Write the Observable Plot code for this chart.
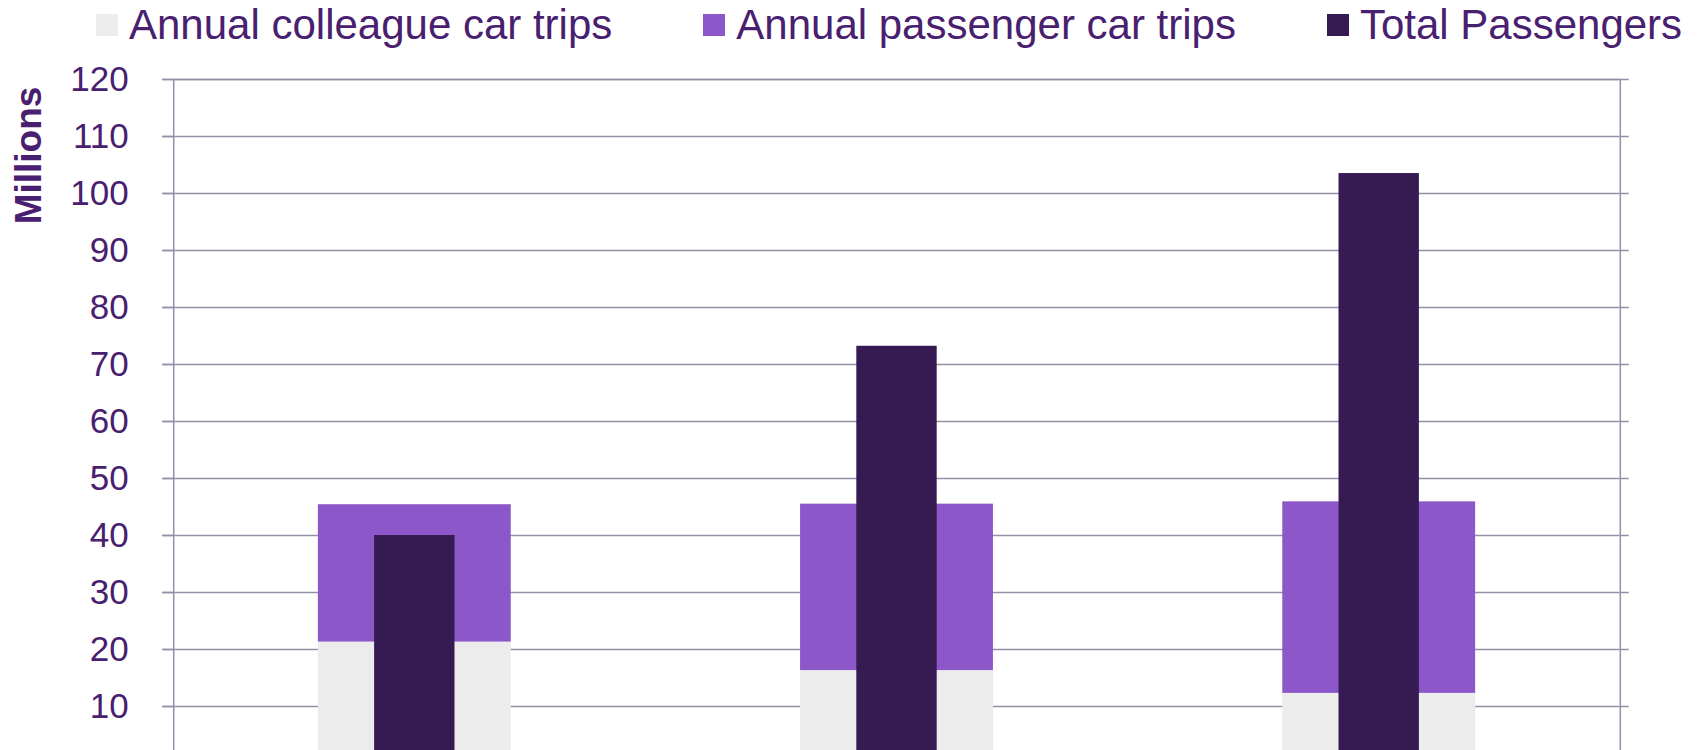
<!DOCTYPE html>
<html>
<head>
<meta charset="utf-8">
<script src="https://cdn.jsdelivr.net/npm/d3@7"></script>
<script src="https://cdn.jsdelivr.net/npm/@observablehq/plot@0.6"></script>
<style>
  html, body { margin: 0; padding: 0; overflow: hidden; background: #ffffff; width: 1706px; height: 750px; }
  #legend { display: flex; align-items: center; height: 50px; line-height: 50px; padding-left: 96px;
            font-family: "Liberation Sans", Arial, sans-serif; font-size: 42px; color: #48206f; white-space: nowrap; }
  .item { display: flex; align-items: center; margin-right: 91px; }
  .sw { width: 22px; height: 22px; margin-right: 11px; flex: none; }
  #chart svg { display: block; }
</style>
</head>
<body>
<div id="legend"></div>
<div id="chart"></div>
<script>
// ---- data ----
const categories = ["Category 1", "Category 2", "Category 3"];
const colleagueTrips = [21.3, 16.3, 12.3];
const passengerTrips = [24.1, 29.2, 33.6];
const totalPassengers = [40.0, 73.2, 103.5];
const seriesNames = ["Annual colleague car trips", "Annual passenger car trips", "Total Passengers"];
const seriesColors = ["#ececec", "#8b57c9", "#361a52"];
const yTicks = [0, 10, 20, 30, 40, 50, 60, 70, 80, 90, 100, 110, 120];
const yTickLabels = [10, 20, 30, 40, 50, 60, 70, 80, 90, 100, 110, 120]; // 0 lies below the visible area
const yLabel = "Millions";

// ---- legend ----
const legend = document.getElementById("legend");
seriesNames.forEach((name, i) => {
  const item = document.createElement("div");
  item.className = "item";
  const sw = document.createElement("div");
  sw.className = "sw";
  sw.style.background = seriesColors[i];
  const tx = document.createElement("span");
  tx.textContent = name;
  item.appendChild(sw);
  item.appendChild(tx);
  legend.appendChild(item);
});

// ---- tables ----
const stacked = [];
categories.forEach((c, i) => {
  stacked.push({cat: c, series: seriesNames[0], value: colleagueTrips[i]});
  stacked.push({cat: c, series: seriesNames[1], value: passengerTrips[i]});
});
const totals = categories.map((c, i) => ({cat: c, series: seriesNames[2], value: totalPassengers[i]}));

// ---- layout ----
const W = 1706, mL = 173.2, mR = 86.2, mT = 29;
const H = 760, mB = 47;
const step = (W - mL - mR) / categories.length;
const inset = step * (0.4 - 1 / 6) / 2;
const gridColor = "#968ea8";
const textColor = "#48206f";

const chart = Plot.plot({
  width: W,
  height: H,
  marginLeft: mL,
  marginRight: mR,
  marginTop: mT,
  marginBottom: mB,
  style: {fontFamily: "'Liberation Sans', Arial, sans-serif", background: "#ffffff", overflow: "visible"},
  x: {domain: categories, paddingInner: 0.6, paddingOuter: 0.3, align: 0.5, round: false, axis: null},
  y: {domain: [0, 120], ticks: yTicks, axis: null},
  color: {domain: seriesNames, range: seriesColors},
  marks: [
    Plot.gridY(yTicks, {stroke: gridColor, strokeOpacity: 1, strokeWidth: 1.5}),
    Plot.frame({stroke: gridColor, strokeWidth: 1.5}),
    Plot.axisY(yTicks, {anchor: "left", tickSize: 11, stroke: gridColor, strokeWidth: 1.5, text: null, label: null}),
    Plot.axisY(yTickLabels, {anchor: "left", tickSize: 11, tickPadding: 34, stroke: gridColor, strokeWidth: 1.5,
      fill: textColor, fontSize: 35, label: null}),
    Plot.axisY(yTicks, {anchor: "right", tickSize: 8, stroke: gridColor, strokeWidth: 1.5,
      tickFormat: () => "", label: null}),
    Plot.barY(stacked, {x: "cat", y: "value", fill: "series"}),
    Plot.barY(totals, {x: "cat", y: "value", fill: "series", insetLeft: inset, insetRight: inset}),
    Plot.text([yLabel], {frameAnchor: "top-left", dx: 29 - mL, dy: 155 - 50 - mT, rotate: -90,
      textAnchor: "middle", lineAnchor: "middle", fontSize: 37, fontWeight: "bold", fill: textColor})
  ]
});
document.getElementById("chart").appendChild(chart);
</script>
</body>
</html>
